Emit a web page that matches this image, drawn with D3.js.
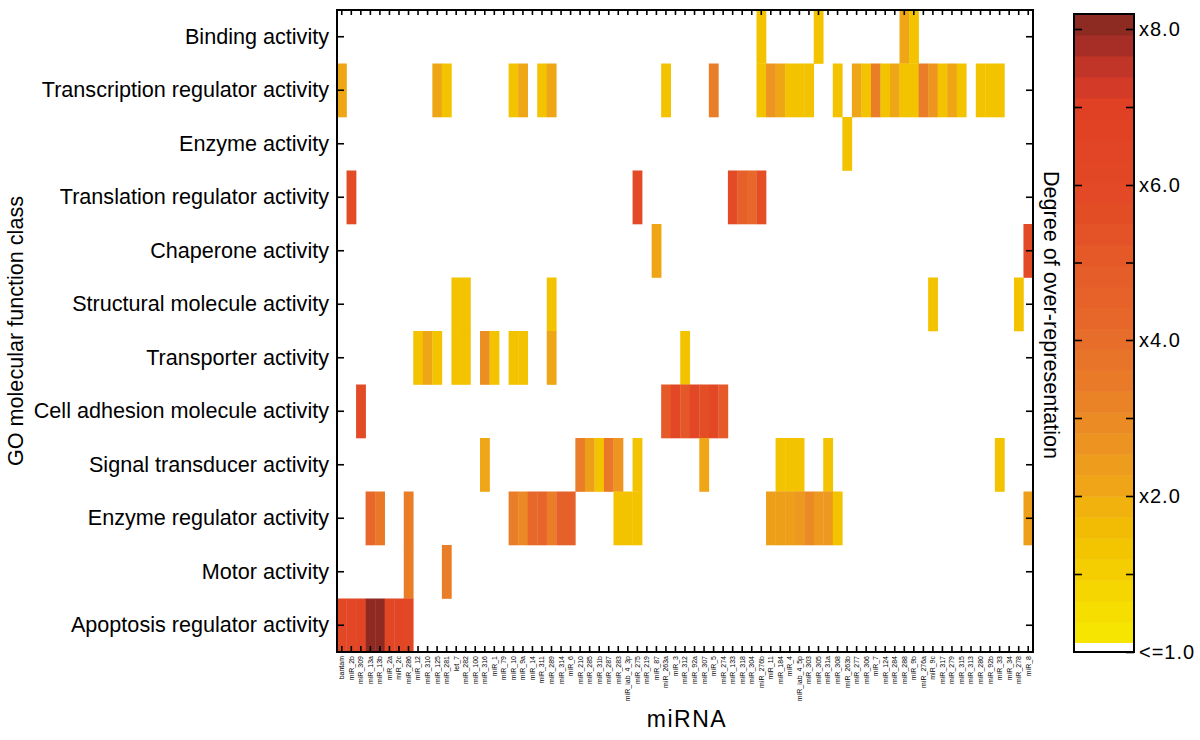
<!DOCTYPE html>
<html>
<head>
<meta charset="utf-8">
<script src="https://cdn.jsdelivr.net/npm/d3@7"></script>
<style>
  html, body { margin: 0; padding: 0; background: #fff; }
  svg { display: block; }
  text { font-family: "Liberation Sans", Arial, Helvetica, sans-serif; fill: #000; }
</style>
</head>
<body>
<svg id="chart" width="1200" height="740"></svg>
<script>
// ---------- DATA ----------
const goClasses = [
  "Binding activity",
  "Transcription regulator activity",
  "Enzyme activity",
  "Translation regulator activity",
  "Chaperone activity",
  "Structural molecule activity",
  "Transporter activity",
  "Cell adhesion molecule activity",
  "Signal transducer activity",
  "Enzyme regulator activity",
  "Motor activity",
  "Apoptosis regulator activity"
];

const mirnas = [
  "bantam","miR_2b","miR_309","miR_13a","miR_13b","miR_2a","miR_2c","miR_286","miR_12","miR_310",
  "miR_125","miR_281","let_7","miR_282","miR_100","miR_316","miR_1","miR_79","miR_10","miR_9a",
  "miR_14","miR_311","miR_289","miR_314","miR_6","miR_210","miR_285","miR_31b","miR_287","miR_283",
  "miR_iab_4_3p","miR_275","miR_219","miR_87","miR_263a","miR_3","miR_312","miR_92a","miR_307","miR_5",
  "miR_274","miR_133","miR_318","miR_304","miR_276b","miR_11","miR_184","miR_4","miR_iab_4_5p","miR_303",
  "miR_305","miR_31a","miR_308","miR_263b","miR_277","miR_306","miR_7","miR_124","miR_284","miR_288",
  "miR_9b","miR_276a","miR_9c","miR_317","miR_279","miR_315","miR_313","miR_280","miR_92b","miR_33",
  "miR_34","miR_278","miR_8"
];

// fold over-representation per GO class: [miRNA, value]
const bindingActivity = [["miR_276b",1.7],["miR_305",1.7],["miR_288",2.1],["miR_9b",1.7]];
const transcriptionRegulator = [
  ["bantam",2.1],["miR_125",2.1],["miR_281",1.7],["miR_10",1.7],["miR_9a",2.1],["miR_311",1.7],["miR_289",2.1],
  ["miR_263a",1.7],["miR_5",3.4],["miR_276b",1.7],["miR_11",2.6],["miR_184",2.1],["miR_4",1.7],["miR_iab_4_5p",1.7],
  ["miR_303",1.7],["miR_308",1.7],["miR_277",2.1],["miR_306",1.7],["miR_7",3.4],["miR_124",1.7],["miR_284",2.1],
  ["miR_288",1.7],["miR_9b",1.7],["miR_276a",3.4],["miR_9c",2.6],["miR_317",1.7],["miR_279",2.1],["miR_315",1.7],
  ["miR_280",1.7],["miR_92b",1.7],["miR_33",1.7]
];
const enzymeActivity = [["miR_263b",1.7]];
const translationRegulator = [["miR_2b",5.8],["miR_275",5.8],["miR_133",5.8],["miR_318",4.6],["miR_304",4.2],["miR_276b",5.6]];
const chaperoneActivity = [["miR_87",2.1],["miR_8",5.8]];
const structuralMolecule = [["let_7",1.7],["miR_282",1.7],["miR_289",1.7],["miR_9c",1.7],["miR_278",1.7]];
const transporterActivity = [
  ["miR_12",1.7],["miR_310",2.1],["miR_125",1.7],["let_7",1.7],["miR_282",1.7],["miR_316",2.8],["miR_1",1.7],
  ["miR_10",1.7],["miR_9a",1.7],["miR_289",2.1],["miR_312",1.7]
];
const cellAdhesion = [
  ["miR_309",5.8],["miR_263a",5.0],["miR_3",6.0],["miR_312",5.2],["miR_92a",6.0],["miR_307",5.6],["miR_5",6.0],["miR_274",5.0]
];
const signalTransducer = [
  ["miR_316",2.1],["miR_210",3.4],["miR_285",2.3],["miR_31b",1.7],["miR_287",3.6],["miR_283",2.6],["miR_275",1.7],
  ["miR_307",2.1],["miR_184",1.7],["miR_4",1.7],["miR_iab_4_5p",1.7],["miR_31a",1.7],["miR_33",1.7]
];
const enzymeRegulator = [
  ["miR_13a",4.2],["miR_13b",3.6],["miR_286",3.4],["miR_10",3.4],["miR_9a",3.0],["miR_14",4.2],["miR_311",4.4],
  ["miR_289",3.4],["miR_314",4.6],["miR_6",4.6],["miR_283",1.7],["miR_iab_4_3p",1.7],["miR_275",1.7],
  ["miR_11",2.3],["miR_184",2.3],["miR_4",2.3],["miR_iab_4_5p",2.5],["miR_303",3.0],["miR_305",2.5],["miR_31a",2.5],
  ["miR_308",1.7],["miR_8",2.3]
];
const motorActivity = [["miR_286",3.4],["miR_281",3.4]];
const apoptosisRegulator = [
  ["bantam",6.0],["miR_2b",6.0],["miR_309",6.4],["miR_13a",8.0],["miR_13b",8.0],["miR_2a",6.2],["miR_2c",6.2],["miR_286",6.0]
];

const legendTickValues = [1, 2, 4, 6, 8];
const legendTickLabels = ["<=1.0", "x2.0", "x4.0", "x6.0", "x8.0"];
const legendMinorTicks = [1.5, 3, 5, 7];

// colour ramp (value stops -> colours)
const rampValues = [1.0, 1.3, 1.7, 2.1, 2.6, 3.4, 4.2, 5.0, 5.8, 7.0, 7.4, 7.7, 8.0, 8.3];
const rampColors = ["#f6ec00","#f5dc00","#f3c300","#efa616","#ed9520","#e97d28","#e7682a","#e55a28",
                    "#e34a26","#e04024","#cc3628","#b03028","#8e2a22","#882a22"];

// ---------- BUILD ----------
const rowsData = [
  bindingActivity, transcriptionRegulator, enzymeActivity, translationRegulator, chaperoneActivity,
  structuralMolecule, transporterActivity, cellAdhesion, signalTransducer, enzymeRegulator,
  motorActivity, apoptosisRegulator
];
const cells = [];
rowsData.forEach((arr, i) => arr.forEach(([m, v]) => cells.push({ go: goClasses[i], mirna: m, value: v })));

const svg = d3.select("#chart");
const plot = { left: 337, right: 1033, top: 10, bottom: 652 };

const x = d3.scaleBand().domain(mirnas).range([plot.left, plot.right]).padding(0);
const y = d3.scaleBand().domain(goClasses).range([plot.top, plot.bottom]).padding(0);
const color = d3.scaleLinear().domain(rampValues).range(rampColors).interpolate(d3.interpolateRgb).clamp(true);

// cells
svg.append("g").selectAll("rect").data(cells).join("rect")
  .attr("x", d => x(d.mirna))
  .attr("y", d => y(d.go))
  .attr("width", x.bandwidth() + 0.3)
  .attr("height", y.bandwidth() + 0.3)
  .attr("fill", d => color(d.value));

// axes
const axLeft = svg.append("g").attr("transform", `translate(${plot.left},0)`)
  .call(d3.axisLeft(y).tickSize(-7).tickSizeOuter(0).tickPadding(8));
axLeft.selectAll("text").style("font-size", "21.6px");

svg.append("g").attr("transform", `translate(${plot.right},0)`)
  .call(d3.axisRight(y).tickSize(-7).tickSizeOuter(0).tickFormat(""));

svg.append("g").attr("transform", `translate(0,${plot.top})`)
  .call(d3.axisTop(x).tickSize(-5).tickSizeOuter(0).tickFormat(""));

const axBottom = svg.append("g").attr("transform", `translate(0,${plot.bottom})`)
  .call(d3.axisBottom(x).tickSize(-6).tickSizeOuter(0));
axBottom.selectAll("text")
  .attr("transform", "rotate(-90)")
  .attr("x", -4).attr("y", 0).attr("dy", "0.35em")
  .style("text-anchor", "end")
  .style("font-size", "7px");

svg.selectAll(".domain").remove();
svg.selectAll(".tick line").attr("stroke", "#000").attr("stroke-width", 1.6);

// border
svg.append("rect")
  .attr("x", plot.left).attr("y", plot.top)
  .attr("width", plot.right - plot.left).attr("height", plot.bottom - plot.top)
  .attr("fill", "none").attr("stroke", "#000").attr("stroke-width", 2);

// axis titles
svg.append("text")
  .attr("transform", `translate(23,${(plot.top + plot.bottom) / 2}) rotate(-90)`)
  .attr("text-anchor", "middle").style("font-size", "21.6px")
  .text("GO molecular function class");

svg.append("text")
  .attr("x", (plot.left + plot.right) / 2 + 2).attr("y", 727)
  .attr("text-anchor", "middle").style("font-size", "23px").style("letter-spacing", "1.5px")
  .text("miRNA");

// ---------- LEGEND ----------
const leg = { x: 1074, w: 60, top: 14, bottom: 652 };
const yLeg = d3.scaleLinear().domain(legendTickValues).range([652, 496, 340, 185, 29]);

const nBands = 30;
const bandTop = leg.top, bandBottom = 643;
const bandH = (bandBottom - bandTop) / nBands;
const bands = d3.range(nBands).map(i => {
  const y0 = bandBottom - (i + 1) * bandH;
  const v = yLeg.invert(y0 + bandH / 2);
  return { y0, v };
});
svg.append("g").selectAll("rect").data(bands).join("rect")
  .attr("x", leg.x).attr("y", d => d.y0)
  .attr("width", leg.w).attr("height", bandH + 0.5)
  .attr("fill", d => color(d.v));
svg.append("rect").attr("x", leg.x).attr("y", bandBottom)
  .attr("width", leg.w).attr("height", leg.bottom - bandBottom).attr("fill", "#fff");

const allLegTicks = legendTickValues.concat(legendMinorTicks).filter(v => v > 1);
svg.append("g").attr("transform", `translate(${leg.x},0)`)
  .call(d3.axisLeft(yLeg).tickValues(allLegTicks).tickSize(-8).tickSizeOuter(0).tickFormat(""));
const legAxis = svg.append("g").attr("transform", `translate(${leg.x + leg.w},0)`)
  .call(d3.axisRight(yLeg).tickValues(legendTickValues.concat(legendMinorTicks)).tickSize(-8).tickSizeOuter(0).tickPadding(5)
    .tickFormat(v => { const i = legendTickValues.indexOf(v); return i >= 0 ? legendTickLabels[i] : ""; }));
legAxis.selectAll("text").style("font-size", "20px").style("letter-spacing", "1px");
svg.selectAll(".domain").remove();
svg.selectAll(".tick line").attr("stroke", "#000").attr("stroke-width", 1.6);

svg.append("rect")
  .attr("x", leg.x).attr("y", leg.top)
  .attr("width", leg.w).attr("height", leg.bottom - leg.top)
  .attr("fill", "none").attr("stroke", "#000").attr("stroke-width", 2);

svg.append("text")
  .attr("transform", `translate(1044,315) rotate(90)`)
  .attr("text-anchor", "middle").style("font-size", "21.6px")
  .text("Degree of over-representation");
</script>
</body>
</html>
